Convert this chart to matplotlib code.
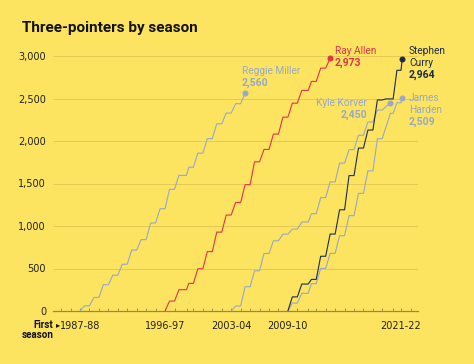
import matplotlib.pyplot as plt
from matplotlib.ticker import FuncFormatter

# three-pointers made per season; a season is keyed by the year it starts in
miller_first = 1987
miller_3pm = [61, 98, 150, 112, 129, 167, 123, 195, 168, 229, 164, 96, 165, 171, 174, 127, 110, 121]
allen_first = 1996
allen_3pm = [117, 134, 74, 172, 202, 229, 201, 148, 209, 269, 146, 180, 199, 165, 150, 106, 156, 116]
korver_first = 2003
korver_3pm = [59, 226, 188, 203, 150, 78, 59, 84, 98, 189, 185, 221, 158, 170, 156, 140, 86]
harden_first = 2009
harden_3pm = [93, 115, 114, 179, 177, 208, 236, 262, 265, 378, 299, 124, 59]
curry_first = 2009
curry_3pm = [166, 151, 55, 272, 261, 286, 402, 324, 212, 354, 12, 337, 132]

season_labels = {1987: "1987-88", 1996: "1996-97", 2003: "2003-04", 2009: "2009-10", 2021: "2021-22"}

# a normal season runs late Oct -> mid April; the odd ones
season_dates = {
    1998: (1999.10, 1999.34),   # lockout
    2011: (2011.98, 2012.32),   # lockout
    2019: (2019.81, 2020.19),   # covid stop
    2020: (2020.97, 2021.37),
    2021: (2021.80, 2021.93),   # season still going
}
bubble_end = 2020.68


def season_span(yr):
    return season_dates.get(yr, (yr + 0.83, yr + 1.30))


def career_path(first, made, bubble=False):
    xs, ys = [], []
    total = 0
    for i, n in enumerate(made):
        yr = first + i
        start, end = season_span(yr)
        if bubble and yr == 2019:
            end = bubble_end
        xs += [start, end]
        ys += [total, total + n]
        total += n
    return xs, ys


bg = "#fce360"
red = "#e2334d"
navy = "#1d2b4b"
grey = "#98a9c9"

W, H = 474, 364
fig = plt.figure(figsize=(W / 100, H / 100), dpi=100, facecolor=bg)
ax = fig.add_axes([53 / W, 1 - 311 / H, 365 / W, 255 / H], facecolor=bg)

plt.rcParams['font.family'] = ['Roboto', 'DejaVu Sans']

for first, made, col, bub, z in [
    (miller_first, miller_3pm, grey, False, 2),
    (korver_first, korver_3pm, grey, True, 2),
    (harden_first, harden_3pm, grey, True, 2),
    (allen_first, allen_3pm, red, False, 3),
    (curry_first, curry_3pm, navy, False, 4),
]:
    xs, ys = career_path(first, made, bub)
    ax.plot(xs, ys, color=col, lw=0.8, zorder=z)
    ax.plot(xs[-1], ys[-1], 'o', color=col, ms=3.3, zorder=z + 1, clip_on=False)

ax.set_xlim(1984.97, 2023.6)
ax.set_ylim(0, 3000)

for s in ['top', 'right', 'left']:
    ax.spines[s].set_visible(False)
ax.spines['bottom'].set_color('#9c8a3c')
ax.spines['bottom'].set_linewidth(0.9)
ax.spines['bottom'].set_zorder(5)

ax.set_yticks(range(0, 3001, 500))
ax.yaxis.set_major_formatter(FuncFormatter(lambda v, p: f"{int(v):,}"))
ax.yaxis.grid(True, color='#e4ca52', lw=0.7)
ax.set_axisbelow(True)
ax.tick_params(axis='y', length=0, pad=5, labelsize=7, labelcolor='#222222')

ax.set_xticks([season_span(y)[0] for y in season_labels])
ax.set_xticklabels(list(season_labels.values()))
ax.set_xticks([season_span(y)[0] for y in range(1985, 2023)], minor=True)
ax.tick_params(axis='x', which='both', direction='in', length=2.5, width=0.6,
               color='#9c8a3c', labelsize=7, labelcolor='#222222', pad=7)


def ftext(x, y, s, **kw):
    fig.text(x / W, 1 - y / H, s, va='center', **kw)


ftext(22, 28, "Three-pointers by season", fontsize=11, fontweight='bold', color='#111111')

ftext(335, 51, "Ray Allen", fontsize=7.3, color=red)
ftext(335, 63, "2,973", fontsize=7.6, fontweight='bold', color=red)
ftext(409, 51, "Stephen", fontsize=7.3, color=navy)
ftext(409, 63, "Curry", fontsize=7.3, color=navy)
ftext(409, 75, "2,964", fontsize=7.6, fontweight='bold', color=navy)
ftext(242, 71, "Reggie Miller", fontsize=7.3, color=grey)
ftext(242, 83, "2,560", fontsize=7.6, fontweight='bold', color=grey)
ftext(367, 103, "Kyle Korver", fontsize=7.3, color=grey, ha='right')
ftext(367, 115, "2,450", fontsize=7.6, fontweight='bold', color=grey, ha='right')
ftext(409, 98, "James", fontsize=7.3, color=grey)
ftext(409, 110, "Harden", fontsize=7.3, color=grey)
ftext(409, 122, "2,509", fontsize=7.6, fontweight='bold', color=grey)

ftext(53, 325, "First", fontsize=7, fontweight='bold', color='#111111', ha='right')
ftext(58.5, 325.5, "\u25b8", fontsize=6, color='#111111', ha='center')
ftext(54, 334.5, "season", fontsize=7, fontweight='bold', color='#111111', ha='right')

fig.savefig("out.png", dpi=100, facecolor=bg)
